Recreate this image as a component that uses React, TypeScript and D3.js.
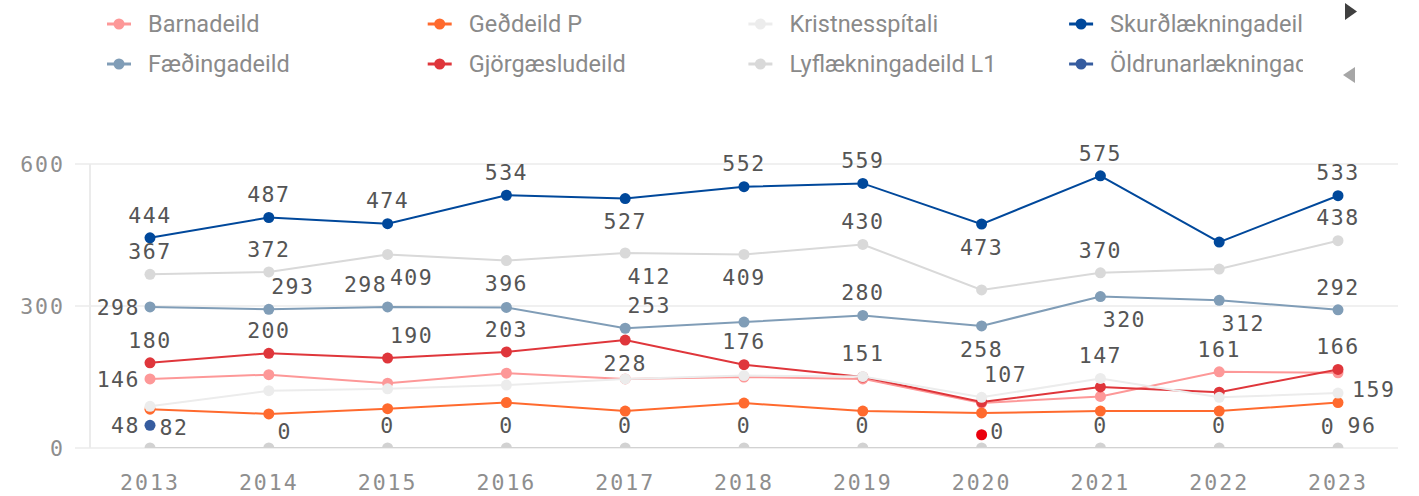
import React from "react";
import * as d3 from "d3";

const years = ["2013", "2014", "2015", "2016", "2017", "2018", "2019", "2020", "2021", "2022", "2023"];
const yTicks = [0, 300, 600];

const barnadeild = [146, 155, 137, 158, 146, 150, 146, 95, 109, 161, 159];
const faedingadeild = [298, 293, 298, 297, 253, 266, 280, 258, 320, 312, 292];
const gedeildP = [82, 72, 83, 96, 78, 95, 78, 74, 78, 78, 96];
const gjorgaesludeild = [180, 200, 190, 203, 228, 176, 150, 97, 129, 118, 166];
const kristnesspitali = [88, 121, 125, 133, 146, 153, 151, 107, 147, 107, 116];
const lyflaekningadeild = [367, 372, 409, 396, 412, 409, 430, 334, 370, 378, 438];
const skurdlaekningadeild = [444, 487, 474, 534, 527, 552, 559, 473, 575, 435, 533];
const oldrunar = [48, null, null, null, null, null, null, null, null, null, null];
const zeroSeries = [0, 0, 0, 0, 0, 0, 0, 0, 0, 0, 0];
const redDot = [null, null, null, null, null, null, null, 28, null, null, null];

// label placement codes per point ('' = no label)
const barnaLab = ["l", "", "", "", "", "", "", "", "", "a", "rb"];
const faedLab = ["l", "ar", "al", "", "ar", "", "a", "b", "br", "br", "a"];
const gedLab = ["br2", "", "", "", "", "", "", "", "", "", "br"];
const gjorgLab = ["a", "a", "ar", "a", "b", "a", "", "", "", "", "a"];
const kristLab = ["", "", "", "", "", "", "a", "ar", "a", "", ""];
const lyfLab = ["a", "a", "br", "b", "br", "b", "a", "", "a", "", "a"];
const skurdLab = ["a", "a", "a", "a", "b", "a", "a", "b", "a", "", "a"];
const oldLab = ["l", "", "", "", "", "", "", "", "", "", ""];
const zeroLab = ["", "z1", "a", "a", "a", "a", "a", "z1", "a", "a", "zl"];
const redLab = ["", "", "", "", "", "", "", "", "", "", ""];

const placements: Record<string, [number, number, string]> = {
  a: [0, -23, "middle"],
  b: [0, 23, "middle"],
  ar: [24, -23, "middle"],
  al: [-22, -23, "middle"],
  br: [24, 23, "middle"],
  br2: [24, 18, "middle"],
  l: [-10, 0, "end"],
  rb: [14, 17, "start"],
  z1: [16, -17, "middle"],
  zl: [-10, -22, "middle"],
};

type S = { name: string; values: (number | null)[]; labels: string[]; color: string; legend: boolean };

const series: S[] = [
  { name: "Barnadeild", values: barnadeild, labels: barnaLab, color: "#fd9898", legend: true },
  { name: "Fæðingadeild", values: faedingadeild, labels: faedLab, color: "#809db7", legend: true },
  { name: "Geðdeild P", values: gedeildP, labels: gedLab, color: "#ff6a2e", legend: true },
  { name: "Gjörgæsludeild", values: gjorgaesludeild, labels: gjorgLab, color: "#df363b", legend: true },
  { name: "Kristnesspítali", values: kristnesspitali, labels: kristLab, color: "#ececec", legend: true },
  { name: "Lyflækningadeild L1", values: lyflaekningadeild, labels: lyfLab, color: "#d9d9d9", legend: true },
  { name: "Skurðlækningadeild", values: skurdlaekningadeild, labels: skurdLab, color: "#00489b", legend: true },
  { name: "Öldrunarlækningadeild", values: oldrunar, labels: oldLab, color: "#365c9f", legend: true },
  { name: "Aðrar", values: zeroSeries, labels: zeroLab, color: "#d2d2d2", legend: false },
  { name: "Önnur", values: redDot, labels: redLab, color: "#ea000d", legend: false },
];

const W = 1419;
const H = 496;

export default function App() {
  const x = d3.scalePoint<string>().domain(years).range([150, 1338]);
  const y = d3.scaleLinear().domain([0, 600]).range([448, 164]);
  const monoFont = "'DejaVu Sans Mono', monospace";
  const legendItems = series.filter((s) => s.legend);

  return (
    <svg width={W} height={H} style={{ position: "absolute", left: 0, top: 0, background: "#fff" }}>
      <defs>
        <clipPath id="plotClip">
          <rect x={75} y={0} width={1330} height={448} />
        </clipPath>
        <clipPath id="legClip">
          <rect x={0} y={0} width={1303} height={100} />
        </clipPath>
      </defs>

      {/* legend */}
      <g clipPath="url(#legClip)">
        {legendItems.map((s, i) => {
          const col = Math.floor(i / 2);
          const row = i % 2;
          const tx = 148 + col * 320.7;
          const cy = 24 + row * 40;
          return (
            <g key={s.name}>
              <line x1={tx - 41} x2={tx - 17} y1={cy} y2={cy} stroke={s.color} strokeWidth={3} />
              <circle cx={tx - 29} cy={cy} r={5.5} fill={s.color} />
              <text x={tx} y={cy} dy="0.36em" fontFamily="Roboto, sans-serif" fontSize={23.5} fill="#8a8a8a">
                {s.name}
              </text>
            </g>
          );
        })}
      </g>
      <path d="M1345,3 L1357,11.5 L1345,20 Z" fill="#404040" />
      <path d="M1355,67 L1343,75 L1355,83 Z" fill="#a6a6a6" />

      {/* grid */}
      {yTicks.map((t) => (
        <g key={t}>
          <line x1={75} x2={1398} y1={y(t)} y2={y(t)} stroke="#ebebeb" strokeWidth={1.5} />
          <text x={65} y={y(t)} dy="0.36em" textAnchor="end" fontFamily={monoFont} fontSize={21.5} letterSpacing={2} fill="#8e8e8e">
            {t}
          </text>
        </g>
      ))}
      <line x1={90} x2={90} y1={y(600)} y2={y(0)} stroke="#ebebeb" strokeWidth={2} />

      {years.map((yr) => (
        <text key={yr} x={x(yr)} y={482} dy="0.36em" textAnchor="middle" fontFamily={monoFont} fontSize={21.5} letterSpacing={2} fill="#8e8e8e">
          {yr}
        </text>
      ))}

      {/* series */}
      <g clipPath="url(#plotClip)">
        {series.map((s) => {
          const line = d3
            .line<number | null>()
            .defined((v) => v !== null)
            .x((_, i) => x(years[i]) as number)
            .y((v) => y(v as number));
          return (
            <g key={s.name}>
              <path d={line(s.values) || ""} fill="none" stroke={s.color} strokeWidth={2} />
              {s.values.map((v, i) =>
                v === null ? null : <circle key={i} cx={x(years[i])} cy={y(v)} r={5.5} fill={s.color} />
              )}
            </g>
          );
        })}
      </g>

      {/* labels */}
      {series.map((s) =>
        s.values.map((v, i) => {
          const code = s.labels[i];
          if (v === null || !code) return null;
          const [dx, dy, anchor] = placements[code];
          return (
            <text
              key={s.name + i}
              x={(x(years[i]) as number) + dx}
              y={y(v) + dy}
              dy="0.36em"
              textAnchor={anchor}
              fontFamily={monoFont}
              fontSize={21.5}
              letterSpacing={1.5}
              fill="#555555"
            >
              {v}
            </text>
          );
        })
      )}
    </svg>
  );
}
